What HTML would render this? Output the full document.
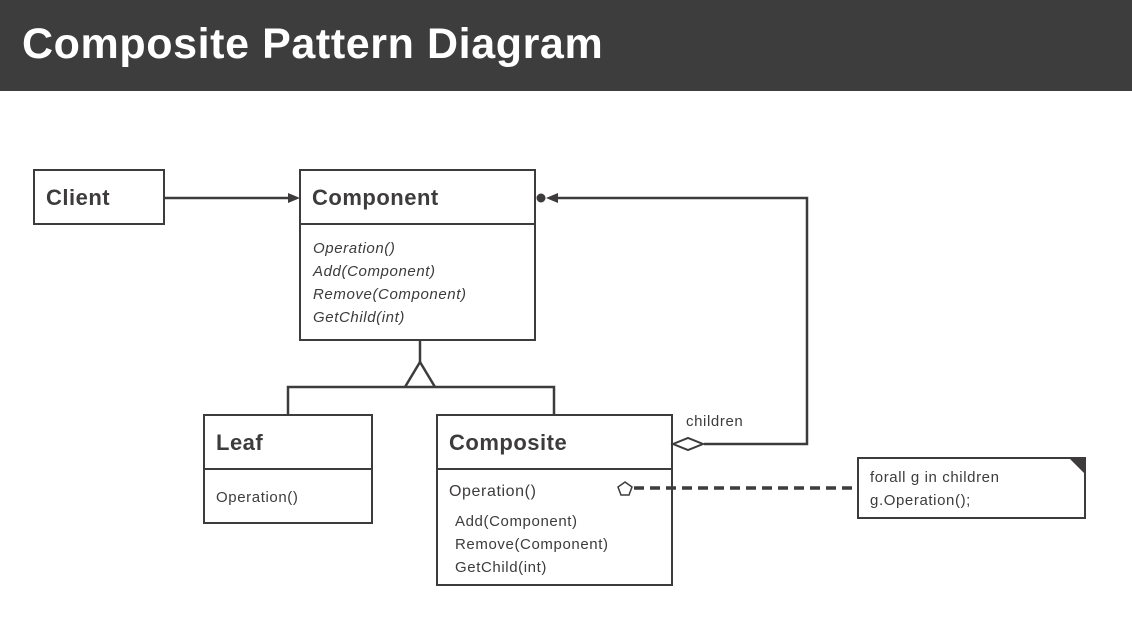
<!DOCTYPE html>
<html><head><meta charset="utf-8"><style>
body{margin:0;background:#fff;width:1132px;height:618px;overflow:hidden}
svg{display:block}
text{font-family:"Liberation Sans",sans-serif;fill:#3d3b3c}
</style></head><body>
<svg width="1132" height="618" viewBox="0 0 1132 618">
<rect x="0" y="0" width="1132" height="91" fill="#3d3d3e"/>
<text x="22" y="58" font-size="43" font-weight="bold" letter-spacing="0.6" style="fill:#fff">Composite Pattern Diagram</text>
<g fill="#fff" stroke="#3d3b3c" stroke-width="2">
<rect x="34" y="170" width="130" height="54"/>
<rect x="300" y="170" width="235" height="170"/>
<line x1="300" y1="224" x2="535" y2="224"/>
<rect x="204" y="415" width="168" height="108"/>
<line x1="204" y1="469" x2="372" y2="469"/>
<rect x="437" y="415" width="235" height="170"/>
<line x1="437" y1="469" x2="672" y2="469"/>
<rect x="858" y="458" width="227" height="60"/>
</g>
<polygon points="1069,458 1085,458 1085,474" fill="#3d3b3c"/>
<g stroke="#3d3b3c" stroke-width="2.5" fill="none">
<line x1="164" y1="198" x2="290" y2="198"/>
<line x1="420" y1="340" x2="420" y2="362"/>
<polyline points="405,387 420,362 435,387"/>
<polyline points="288,415 288,387 554,387 554,415"/>
<polyline points="704,444 807,444 807,198 556,198"/>
<line x1="634" y1="488" x2="858" y2="488" stroke-dasharray="10,6" stroke-width="3.5"/>
</g>
<polygon points="300,198 288,193 288,203" fill="#3d3b3c"/>
<polygon points="546,198 558,193 558,203" fill="#3d3b3c"/>
<circle cx="541" cy="198" r="4.5" fill="#3d3b3c"/>
<polygon points="673,444 688,438 703,444 688,450" fill="#fff" stroke="#3d3b3c" stroke-width="2"/>
<polygon points="625,482 632,487 629,495 621,495 618,487" fill="#fff" stroke="#3d3b3c" stroke-width="1.5"/>
<g font-size="22" font-weight="bold" letter-spacing="0.5">
<text x="46" y="205">Client</text>
<text x="312" y="205">Component</text>
<text x="216" y="450">Leaf</text>
<text x="449" y="450">Composite</text>
</g>
<g font-size="15" font-style="italic" letter-spacing="0.6">
<text x="313" y="253">Operation()</text>
<text x="313" y="276">Add(Component)</text>
<text x="313" y="299">Remove(Component)</text>
<text x="313" y="322">GetChild(int)</text>
</g>
<g font-size="15" letter-spacing="0.6">
<text x="216" y="502">Operation()</text>
<text x="449" y="496" font-size="16">Operation()</text>
<text x="455" y="526">Add(Component)</text>
<text x="455" y="549">Remove(Component)</text>
<text x="455" y="572">GetChild(int)</text>
<text x="686" y="426">children</text>
<text x="870" y="482">forall g in children</text>
<text x="870" y="505">g.Operation();</text>
</g>
</svg>
</body></html>
